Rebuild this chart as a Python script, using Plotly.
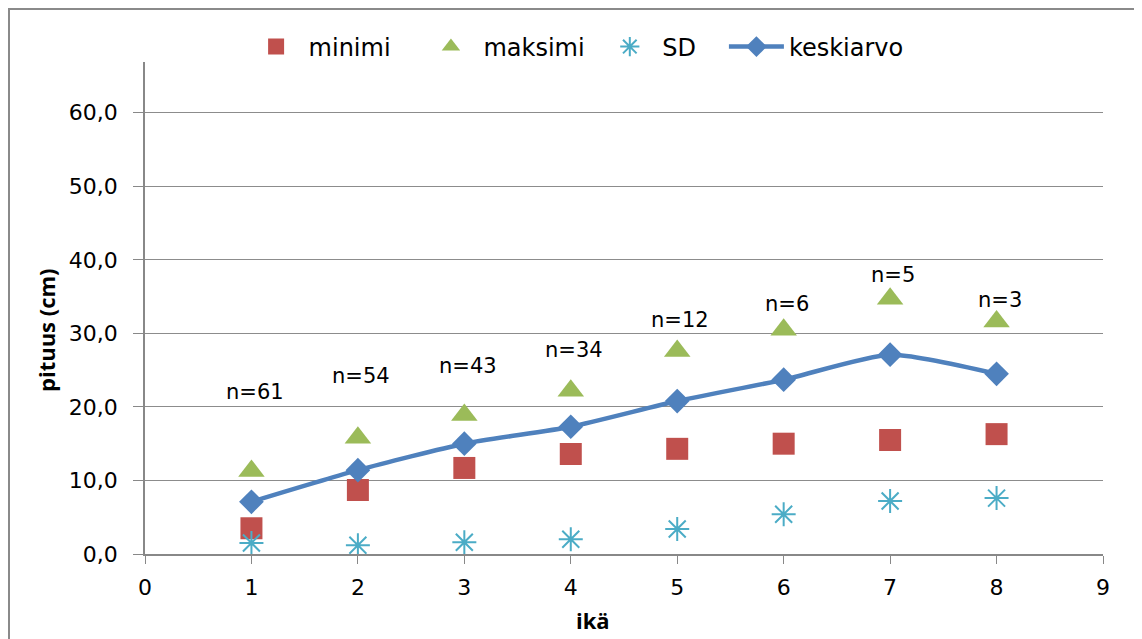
import plotly.graph_objects as go

ika = [1, 2, 3, 4, 5, 6, 7, 8]
minimi = [3.5, 8.7, 11.7, 13.6, 14.3, 15.0, 15.5, 16.3]
maksimi = [11.3, 15.8, 18.9, 22.2, 27.6, 30.5, 34.7, 31.6]
sd = [1.5, 1.2, 1.6, 2.0, 3.4, 5.4, 7.2, 7.6]
keskiarvo = [7.1, 11.4, 15.0, 17.3, 20.8, 23.7, 27.1, 24.5]
n_labels = ["n=61", "n=54", "n=43", "n=34", "n=12", "n=6", "n=5", "n=3"]
n_label_y = [22.0, 24.2, 25.6, 27.8, 31.8, 34.0, 38.0, 34.6]

sp = "&nbsp;"

fig = go.Figure()
fig.add_trace(go.Scatter(x=ika, y=minimi, mode="markers", name="minimi" + sp * 3,
                         marker=dict(symbol="square", size=22, color="#C0504D")))
fig.add_trace(go.Scatter(x=ika, y=maksimi, mode="markers", name="maksimi" + sp,
                         marker=dict(symbol="triangle-up", size=23, color="#9BBB59")))
fig.add_trace(go.Scatter(x=ika, y=sd, mode="markers", name="SD" + sp * 3,
                         marker=dict(symbol="asterisk-open", size=20, color="#4BACC6",
                                     line=dict(color="#4BACC6", width=2))))
fig.add_trace(go.Scatter(x=ika, y=keskiarvo, mode="lines+markers", name="keskiarvo",
                         line=dict(color="#4F81BD", width=4.5, shape="spline", smoothing=0.6),
                         marker=dict(symbol="diamond", size=19, color="#4F81BD")))

for xi, yi, t in zip(ika, n_label_y, n_labels):
    fig.add_annotation(x=xi + 0.03, y=yi, text=t, showarrow=False,
                       font=dict(family="DejaVu Sans", size=21, color="#000000"))

# axis titles (placed off-centre like the original)
fig.add_annotation(xref="paper", yref="paper", x=(585 - 137) / 958, y=(546 - 612) / 492,
                   xanchor="center", yanchor="middle",
                   text="<b>ikä</b>", showarrow=False,
                   font=dict(family="Open Sans", size=22, color="#000000"))
fig.add_annotation(xref="paper", yref="paper", x=(38 - 137) / 958, y=(546 - 322) / 492,
                   xanchor="center", yanchor="middle",
                   text="<b>pituus (cm)</b>", showarrow=False, textangle=-90,
                   font=dict(family="Open Sans", size=22, color="#000000"))

# chart border
fig.add_shape(type="rect", xref="paper", yref="paper",
              x0=(1 - 137) / 958, x1=(1133 - 137) / 958,
              y0=-0.3, y1=(546 - 1) / 492,
              line=dict(color="#8a8a8a", width=2))

fig.update_layout(
    width=1134, height=631,
    margin=dict(l=137, r=39, t=54, b=85),
    plot_bgcolor="white", paper_bgcolor="white",
    separators=", ",
    font=dict(family="DejaVu Sans", size=22, color="#000000"),
    showlegend=True,
    legend=dict(orientation="h", x=0.45, xanchor="center",
                y=(546 - 39) / 492, yanchor="middle",
                font=dict(family="DejaVu Sans", size=24), itemwidth=55,
                traceorder="normal"),
    xaxis=dict(range=[0, 9], dtick=1, tick0=0, showgrid=False, zeroline=False,
               showline=True, linecolor="#888888", linewidth=1.5,
               ticks="outside", ticklen=8, tickcolor="#888888", ticklabelstandoff=5),
    yaxis=dict(range=[0, 66.9], tickvals=[0, 10, 20, 30, 40, 50, 60], tickformat=".1f",
               showgrid=True, gridcolor="#8c8c8c", gridwidth=1, zeroline=False,
               showline=True, linecolor="#888888", linewidth=1.5,
               ticks="outside", ticklen=10, tickcolor="#888888", ticklabelstandoff=11),
)

fig.write_html("out.html")
